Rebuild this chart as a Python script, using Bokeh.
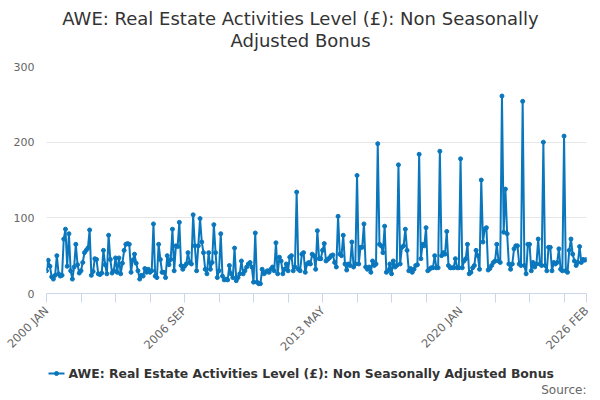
from bokeh.plotting import figure
from bokeh.models import FixedTicker, Range1d
from bokeh.layouts import column
from bokeh.core.properties import value
from bokeh.embed import file_html
from bokeh.resources import INLINE
import math

series_name = "AWE: Real Estate Activities Level (£): Non Seasonally Adjusted Bonus"
title_lines = ["AWE: Real Estate Activities Level (£): Non Seasonally", "Adjusted Bonus"]
source_text = "Source:"

# monthly values, 2000 JAN .. 2026 FEB
values = [
    30, 44, 36, 22, 19, 24, 50, 26, 23, 24, 72, 85,
    36, 79, 30, 19, 35, 65, 38, 27, 30, 41, 54, 57,
    60, 84, 24, 29, 46, 45, 26, 25, 27, 57, 38, 26,
    77, 45, 27, 30, 47, 28, 47, 26, 40, 57, 65, 66,
    65, 28, 44, 52, 40, 30, 19, 24, 23, 33, 28, 32,
    28, 30, 92, 23, 21, 65, 45, 28, 28, 21, 50, 38,
    45, 85, 30, 63, 62, 94, 37, 32, 36, 39, 54, 41,
    39, 104, 63, 30, 63, 99, 68, 54, 32, 26, 54, 32,
    41, 91, 54, 21, 30, 79, 23, 18, 19, 18, 37, 26,
    21, 60, 17, 21, 26, 43, 26, 30, 35, 39, 41, 35,
    15, 80, 15, 13, 13, 32, 26, 28, 30, 28, 32, 35,
    30, 67, 26, 48, 43, 26, 32, 39, 30, 48, 50, 30,
    35, 134, 32, 30, 52, 54, 28, 39, 41, 39, 52, 50,
    32, 83, 46, 46, 57, 66, 43, 45, 47, 50, 51, 41,
    35, 102, 52, 50, 77, 39, 31, 39, 37, 68, 35, 39,
    156, 39, 61, 61, 92, 35, 32, 35, 28, 43, 37, 39,
    198, 65, 63, 54, 89, 28, 30, 39, 26, 43, 35, 37,
    170, 39, 61, 63, 85, 57, 30, 33, 28, 32, 37, 38,
    184, 46, 65, 63, 87, 30, 32, 34, 34, 50, 34, 34,
    188, 50, 54, 52, 82, 37, 34, 34, 34, 46, 34, 34,
    178, 34, 43, 46, 65, 26, 28, 34, 37, 57, 50, 32,
    150, 68, 85, 87, 31, 33, 37, 41, 43, 65, 43, 41,
    261, 81, 138, 79, 39, 32, 39, 59, 63, 63, 39, 37,
    254, 37, 26, 65, 65, 30, 41, 35, 39, 72, 39, 37,
    200, 37, 30, 61, 61, 30, 41, 39, 41, 59, 32, 30,
    208, 30, 28, 57, 72, 52, 43, 37, 41, 62, 41, 45,
    44, 45,
]
months = list(range(len(values)))

label_positions = [0, 80, 160, 240, 313]
tick_labels = ["2000 JAN", "2006 SEP", "2013 MAY", "2020 JAN", "2026 FEB"]
tick_positions = list(range(0, 313, 20)) + [313]
y_ticks = [0, 100, 200, 300]

color = "#0a77bd"
font = "DejaVu Sans"
W = 600
LEFT, RIGHT = 46, 14  # same borders on every strip so the frames line up


def strip(height, y_top, y_bottom):
    f = figure(width=W, height=height, output_backend="svg", toolbar_location=None,
               x_range=Range1d(LEFT, W - RIGHT), y_range=Range1d(y_bottom, y_top),
               x_axis_type=None, y_axis_type=None,
               min_border_left=LEFT, min_border_right=RIGHT,
               min_border_top=0, min_border_bottom=0)
    f.outline_line_color = None
    f.grid.visible = False
    return f


# ---- title strip (coordinates = page pixels) ----
tf = strip(56, 0, 56)
tf.text(x=[W / 2, W / 2], y=[18, 40], text=title_lines, text_align="center",
        text_baseline="middle", text_font=value(font), text_font_size="18px",
        text_color="#333333")

# ---- main chart ----
p = figure(width=W, height=306, output_backend="svg", toolbar_location=None,
           x_range=Range1d(0, len(values) - 1), y_range=Range1d(0, 300),
           min_border_left=LEFT, min_border_right=RIGHT, min_border_top=10, min_border_bottom=69)
p.outline_line_color = None
p.background_fill_color = None
p.border_fill_color = None

p.line(months, values, line_color=color, line_width=2)
p.scatter(months, values, size=4, fill_color=color, line_color=color)

p.xgrid.visible = False
p.ygrid.grid_line_color = "#e6e6e6"
p.ygrid.ticker = FixedTicker(ticks=y_ticks)

xa = p.xaxis[0]
xa.ticker = FixedTicker(ticks=tick_positions)
overrides = {t: "" for t in tick_positions}
for pos, lab in zip(label_positions, tick_labels):
    overrides[pos] = lab
xa.major_label_overrides = overrides
xa.major_label_orientation = math.pi / 4
xa.axis_line_color = "#ccd6eb"
xa.major_tick_line_color = "#ccd6eb"
xa.major_tick_out = 9
xa.major_tick_in = 0
xa.minor_tick_line_color = None
xa.major_label_text_font = font
xa.major_label_text_font_size = "11.5px"
xa.major_label_text_color = "#666666"
xa.major_label_standoff = 6

ya = p.yaxis[0]
ya.ticker = FixedTicker(ticks=y_ticks)
ya.axis_line_color = None
ya.major_tick_line_color = None
ya.minor_tick_line_color = None
ya.major_label_text_font = font
ya.major_label_text_font_size = "11px"
ya.major_label_text_color = "#666666"
ya.major_label_standoff = 6

# ---- legend + source strip (coordinates = page pixels) ----
lf = strip(38, 362, 400)
lf.line(x=[48, 64], y=[373, 373], line_color=color, line_width=2)
lf.scatter(x=[56], y=[373], size=4, fill_color=color, line_color=color)
lf.text(x=[68], y=[373], text=[series_name], text_align="left", text_baseline="middle",
        text_font=value(font), text_font_size="12.4px", text_font_style="bold",
        text_color="#333333")
lf.text(x=[W - RIGHT], y=[389], text=[source_text], text_align="right", text_baseline="middle",
        text_font=value(font), text_font_size="12px", text_color="#666666")

layout = column(tf, p, lf, spacing=0)
open("out.html", "w").write(file_html(layout, INLINE))
